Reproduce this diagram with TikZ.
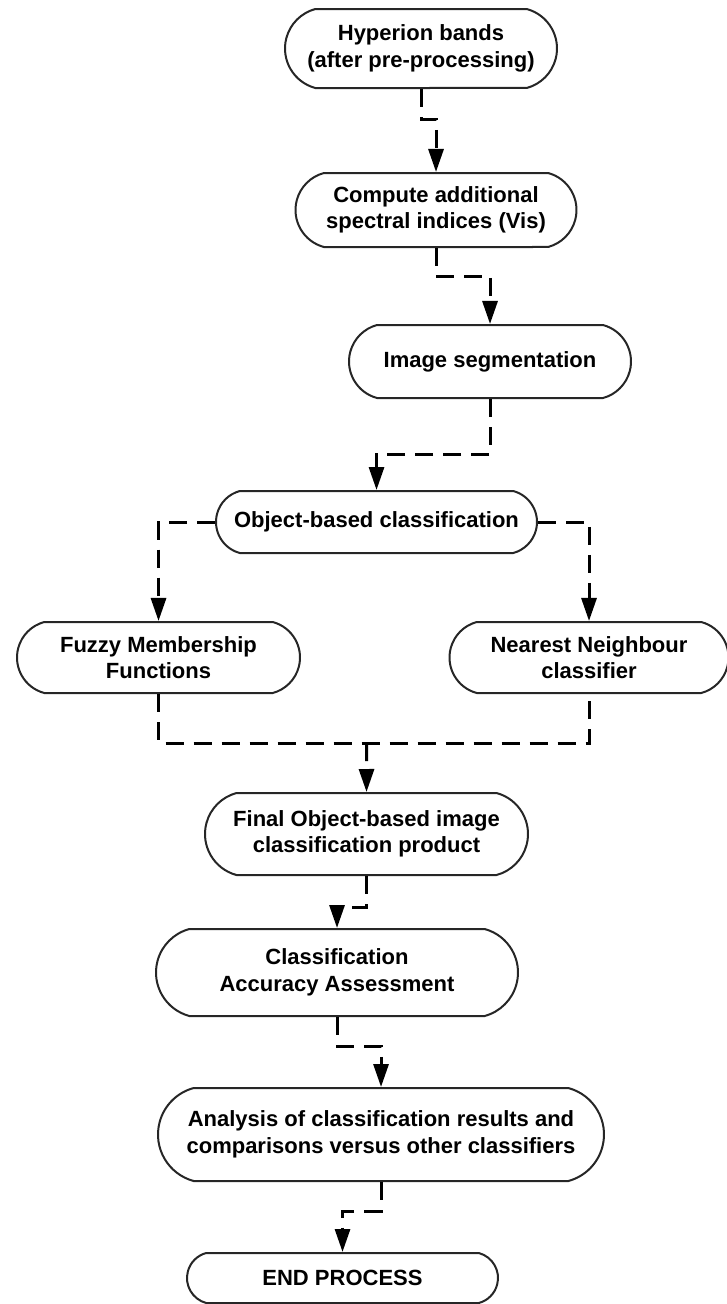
\documentclass[tikz,border=0pt]{standalone}
\usepackage{fontspec}
\setmainfont{Liberation Sans}
\usetikzlibrary{shapes.misc,arrows.meta}
\begin{document}
\begin{tikzpicture}[x=1pt, y=-1pt, font=\bfseries\fontsize{22}{26.5}\selectfont,
          box/.style={draw=black!85, line width=2pt, rounded rectangle, rounded rectangle arc length=150, align=center, inner sep=2pt},
          link/.style={line width=3pt, dash pattern=on 18pt off 10pt},
          flow/.style={link, -{Triangle[length=23pt, width=15pt]}}]
        \useasboundingbox (0,0) rectangle (726,1304);
        \node[box, minimum width=276pt, minimum height=79pt] (hyp) at (421,48.5) {Hyperion bands\\(after pre-processing)};
        \node[box, minimum width=285pt, minimum height=74pt] (idx) at (436,210) {Compute additional\\spectral indices (Vis)};
        \node[box, minimum width=286pt, minimum height=73pt] (seg) at (490,361.5) {Image segmentation};
        \node[box, minimum width=325pt, minimum height=62pt] (obj) at (376.5,522) {Object-based classification};
        \node[box, minimum width=287pt, minimum height=71pt] (fuz) at (158.5,657.5) {Fuzzy Membership\\Functions};
        \node[box, minimum width=283pt, minimum height=71pt] (nn) at (589,657.5) {Nearest Neighbour\\classifier};
        \node[box, minimum width=327pt, minimum height=82pt] (fin) at (366.5,834) {Final Object-based image\\classification product};
        \node[box, minimum width=366pt, minimum height=87pt] (acc) at (337,972.5) {Classification\\Accuracy Assessment};
        \node[box, minimum width=450pt, minimum height=93pt] (ana) at (381,1134.5) {Analysis of classification results and\\comparisons versus other classifiers};
        \node[box, minimum width=315pt, minimum height=50pt] (endp) at (342.5,1278) {END PROCESS};
        \draw[flow] (hyp.south) -- ++(0,30) -| (idx);
        \draw[flow] (idx.south) -- ++(0,28) -| (seg);
        \draw[flow] (seg.south) -- ++(0,55) -| (obj);
        \draw[flow] (obj.west) -| (fuz);
        \draw[flow] (obj.east) -| (nn);
        \draw[link] (fuz.south) -- ++(0,49) coordinate (mrg) -| (nn.south);
        \draw[flow] (mrg -| fin.north) -- (fin);
        \draw[flow] (fin.south) -- ++(0,31) -| (acc);
        \draw[flow] (acc.south) -- ++(0,29) -| (ana);
        \draw[flow] (ana.south) -- ++(0,29) -| (endp);
      \end{tikzpicture}
\end{document}
